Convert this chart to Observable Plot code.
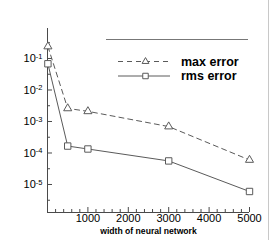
<!DOCTYPE html>
<html><head><meta charset="utf-8">
<script src="https://cdn.jsdelivr.net/npm/d3@7"></script>
<script src="https://cdn.jsdelivr.net/npm/@observablehq/plot@0.6"></script>
<style>
body{margin:0;background:#fff;}
#wrap{position:relative;width:270px;height:240px;overflow:hidden;font-family:"Liberation Sans",Arial,sans-serif;}
#edge{position:absolute;left:268px;top:0;width:1px;height:240px;background:#c8c8c8;}
</style></head><body><div id="wrap"><div id="edge"></div></div>
<script>
// ---- data ----
const widths = [10, 500, 1000, 3000, 5000];
const maxError = [0.24, 2.6e-3, 2.1e-3, 6.9e-4, 6.0e-5];
const rmsError = [0.068, 1.66e-4, 1.34e-4, 5.6e-5, 6.0e-6];
const seriesNames = ["max error", "rms error"];
const xTickValues = [1000, 2000, 3000, 4000, 5000];
const xMinorTicks = [200,400,600,800,1200,1400,1600,1800,2200,2400,2600,2800,3200,3400,3600,3800,4200,4400,4600,4800];
const yTickValues = [1e-1, 1e-2, 1e-3, 1e-4, 1e-5];
const yMinorTicks = [10**-0.5, 10**-1.5, 10**-2.5, 10**-3.5, 10**-4.5, 10**-5.5];
const xLabel = "width of neural network";

const rows = [];
widths.forEach((w, i) => {
  rows.push({series: seriesNames[0], width: w, err: maxError[i]});
  rows.push({series: seriesNames[1], width: w, err: rmsError[i]});
});
const maxRows = rows.filter(d => d.series === seriesNames[0]);
const rmsRows = rows.filter(d => d.series === seriesNames[1]);

const W = 270, H = 240, mL = 47, mR = 21, mT = 28, mB = 28;
const fw = W - mL - mR, fh = H - mT - mB;
const yDomain = [10 ** -5.889, 10 ** -0.048];
const ink = "#4a4a4a";
const lineInk = "#5a5a5a";

function legend() {
  const g = d3.create("svg:g");
  g.append("line").attr("x1", 106).attr("x2", 248).attr("y1", 39.5).attr("y2", 39.5)
    .attr("stroke", "#777").attr("stroke-width", 1);
  const items = [
    {name: seriesNames[0], y: 61.5, dash: "5,4", sym: d3.symbolTriangle, size: 20},
    {name: seriesNames[1], y: 76, dash: null, sym: d3.symbolSquare, size: 30}
  ];
  for (const it of items) {
    const l = g.append("line").attr("x1", 118).attr("x2", 170).attr("y1", it.y).attr("y2", it.y)
      .attr("stroke", lineInk).attr("stroke-width", 1);
    if (it.dash) l.attr("stroke-dasharray", it.dash);
    g.append("path").attr("d", d3.symbol(it.sym, it.size)()).attr("transform", `translate(145.5,${it.y})`)
      .attr("fill", "white").attr("stroke", lineInk).attr("stroke-width", 1);
    g.append("text").attr("x", 181).attr("y", it.y + 4.3).attr("font-size", 12.5)
      .attr("text-anchor", "start")
      .attr("font-weight", "bold").attr("fill", "#000").text(it.name);
  }
  return g.node();
}

const chart = Plot.plot({
  width: W, height: H,
  marginLeft: mL, marginRight: mR, marginTop: mT, marginBottom: mB,
  style: {fontFamily: "Liberation Sans, Arial, sans-serif", fontSize: "10.5px", background: "white", color: "#000", overflow: "visible"},
  x: {domain: [0, 5000]},
  y: {type: "log", domain: yDomain},
  marks: [
    Plot.ruleX([0], {stroke: ink}),
    Plot.ruleY([yDomain[0]], {stroke: ink}),
    Plot.ruleX(xTickValues, {insetTop: fh - 5, stroke: ink}),
    Plot.ruleX(xMinorTicks, {insetTop: fh - 3, stroke: ink}),
    Plot.ruleY(yTickValues, {insetRight: fw - 5, stroke: ink}),
    Plot.ruleY(yMinorTicks, {insetRight: fw - 3, stroke: ink}),
    Plot.axisX({ticks: xTickValues, tickSize: 0, tickPadding: 2, label: null, tickFormat: d => String(d), fill: "#000", fontSize: 11}),
    Plot.axisY({ticks: yTickValues, tickSize: 0, tickPadding: 5, label: null, tickFormat: d => "10^" + Math.round(Math.log10(d)), fill: "#000", fontSize: 11}),
    Plot.line(maxRows, {x: "width", y: "err", stroke: lineInk, strokeWidth: 1, strokeDasharray: "5,4"}),
    Plot.line(rmsRows, {x: "width", y: "err", stroke: lineInk, strokeWidth: 1}),
    Plot.dot(maxRows, {x: "width", y: "err", symbol: "triangle", r: 3, fill: "white", stroke: lineInk, strokeWidth: 1}),
    Plot.dot(rmsRows, {x: "width", y: "err", symbol: "square", r: 3.6, fill: "white", stroke: lineInk, strokeWidth: 1}),
    Plot.text([xLabel], {frameAnchor: "bottom", dy: 21, lineAnchor: "bottom", fontSize: 8.6, fontWeight: "bold", fill: "#000"}),
    legend
  ]
});

// superscript exponents on y tick labels
d3.select(chart).selectAll('g[aria-label="y-axis tick label"] text').each(function() {
  const t = d3.select(this);
  const s = t.text();
  if (!s.includes("^")) return;
  const [base, ex] = s.split("^");
  t.text("");
  t.append("tspan").text(base);
  t.append("tspan").attr("dy", "-0.45em").attr("font-size", "7.5px").text(ex);
});

document.getElementById("wrap").prepend(chart);
</script>
</body></html>
